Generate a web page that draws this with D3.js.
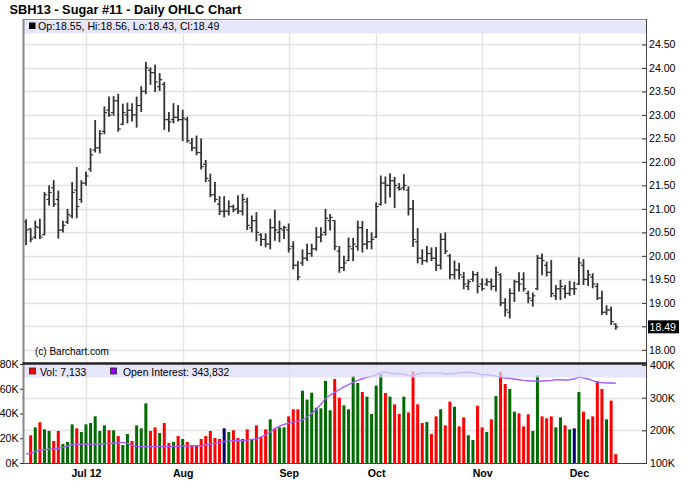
<!DOCTYPE html>
<html><head><meta charset="utf-8">
<script src="https://cdn.jsdelivr.net/npm/d3@7/dist/d3.min.js"></script>
<style>body{margin:0;background:#fff}svg{display:block}text{font-family:"Liberation Sans",Arial,sans-serif}</style>
</head><body><svg id="c" width="688" height="503"></svg>
<script>
// ---- data (index 0 = first trading day shown) ----
const open =[20.72,20.57,20.40,20.60,20.45,21.20,21.45,21.20,20.55,20.72,
20.85,21.40,21.20,21.55,21.85,22.25,22.30,22.65,23.10,23.05,
23.30,22.80,23.00,23.10,23.00,23.20,23.50,23.95,23.90,23.60,
23.65,22.90,22.90,22.95,22.90,22.90,22.40,22.30,22.20,21.95,
21.60,21.30,21.10,20.95,20.95,21.05,21.00,20.95,21.15,20.60,
20.75,20.45,20.35,20.25,20.60,20.50,20.55,20.55,20.20,19.80,
19.85,19.95,20.05,20.15,20.40,20.50,20.75,20.75,20.10,19.75,
19.90,20.15,20.20,20.60,20.25,20.30,20.40,21.10,21.55,21.50,
21.60,21.45,21.45,21.40,21.00,20.30,19.95,19.90,20.05,19.95,
19.80,20.35,20.00,19.60,19.70,19.55,19.35,19.50,19.60,19.40,
19.40,19.45,19.35,19.60,19.00,18.80,19.20,19.45,19.50,19.20,
19.05,19.30,19.95,19.80,19.65,19.15,19.30,19.30,19.20,19.30,
19.40,19.80,19.50,19.55,19.35,19.10,18.80,18.85,18.55];
const high =[20.78,20.59,20.75,20.79,21.36,21.50,21.61,21.39,20.75,21.00,
21.57,21.89,21.61,21.79,22.29,22.89,22.68,23.18,23.39,23.40,
23.45,23.24,23.26,23.25,23.39,23.61,24.13,24.01,24.07,23.89,
23.70,23.06,23.25,23.21,23.11,22.96,22.51,22.56,22.50,22.04,
21.75,21.57,21.27,21.27,21.18,21.09,21.29,21.32,21.24,20.86,
20.93,20.48,20.48,20.79,20.98,20.75,20.64,20.69,20.31,19.89,
20.14,20.26,20.26,20.61,20.61,21.00,20.89,20.76,20.21,20.00,
20.39,20.38,20.75,20.74,20.57,20.50,21.14,21.71,21.69,21.76,
21.68,21.55,21.74,21.48,21.19,20.59,20.14,20.21,20.18,20.19,
20.48,20.50,20.04,19.90,19.85,19.66,19.50,19.68,19.66,19.52,
19.52,19.52,19.77,19.63,19.10,19.31,19.49,19.65,19.65,19.26,
19.22,20.02,20.05,19.88,19.91,19.38,19.49,19.38,19.47,19.45,
19.97,19.93,19.70,19.63,19.42,19.26,18.95,18.92,18.56];
const low  =[20.23,20.29,20.36,20.36,20.44,21.07,21.04,20.37,20.50,20.68,
20.80,20.80,21.13,21.49,21.79,22.20,22.18,22.59,22.96,22.98,
22.64,22.78,22.82,22.86,22.73,23.06,23.44,23.64,23.49,23.51,
22.68,22.64,22.82,22.86,22.44,22.41,22.23,22.14,21.84,21.57,
21.25,21.14,20.87,20.82,20.86,20.93,20.89,20.86,20.55,20.50,
20.31,20.21,20.18,20.14,20.32,20.29,20.36,20.07,19.71,19.48,
19.79,19.89,19.98,20.11,20.29,20.43,20.54,20.12,19.64,19.68,
19.89,19.89,20.11,20.07,20.14,20.14,20.38,21.07,21.11,21.24,
21.02,21.39,21.39,20.86,20.19,19.84,19.81,19.86,19.89,19.68,
19.71,20.04,19.50,19.50,19.50,19.29,19.27,19.45,19.20,19.26,
19.36,19.27,19.24,18.93,18.71,18.67,19.02,19.24,19.24,18.99,
18.92,19.27,19.59,19.56,19.12,19.06,19.06,19.10,19.15,19.17,
19.38,19.38,19.36,19.31,19.06,18.74,18.74,18.53,18.43];
const close=[20.55,20.36,20.62,20.40,21.30,21.35,21.10,20.55,20.65,20.88,
21.35,21.05,21.55,21.70,22.15,22.30,22.60,23.05,23.00,23.30,
22.70,23.05,23.10,23.00,23.20,23.50,24.00,23.90,23.70,23.75,
22.90,22.85,22.95,22.90,22.93,22.45,22.30,22.20,21.90,21.65,
21.30,21.20,20.95,20.95,21.05,20.98,20.95,21.20,20.65,20.75,
20.50,20.35,20.25,20.60,20.55,20.58,20.60,20.15,19.80,19.55,
19.95,20.05,20.15,20.40,20.45,20.80,20.82,20.20,19.75,19.85,
20.20,20.25,20.60,20.25,20.30,20.35,21.05,21.55,21.50,21.60,
21.50,21.42,21.50,21.00,20.35,19.95,19.90,20.05,19.95,19.80,
20.35,20.10,19.60,19.70,19.60,19.40,19.45,19.60,19.35,19.30,
19.45,19.35,19.65,19.00,18.85,19.20,19.45,19.40,19.30,19.10,
19.15,19.95,19.90,19.65,19.20,19.30,19.35,19.20,19.30,19.30,
19.85,19.50,19.60,19.40,19.10,18.80,18.85,18.60,18.49];
// volume in thousands (first bar has no volume shown)
const volume=[null,
22.4,28.8,32.9,27.2,25.9,17.8,25.9,15.4,17.0,31.2,
28.0,25.0,31.2,32.3,37.7,25.9,30.4,26.4,26.4,21.8,
14.5,23.4,17.8,30.4,28.0,48.2,25.9,28.8,24.2,32.3,
16.2,17.0,21.8,19.4,17.0,14.5,13.7,19.4,21.8,25.9,
20.2,19.4,28.0,25.0,26.4,20.2,19.4,27.2,19.4,30.4,
21.0,27.2,35.3,28.0,28.8,28.8,37.7,43.4,43.4,58.4,
51.2,56.8,44.7,44.2,66.3,42.6,67.9,52.8,46.6,43.4,
70.3,64.7,57.4,53.6,39.6,62.5,71.9,56.6,53.6,47.4,
39.6,53.6,40.9,74.0,47.4,32.3,33.1,23.4,37.7,43.4,
30.4,49.6,45.5,29.6,36.9,22.4,18.6,46.3,28.8,25.0,
35.3,54.1,73.8,63.8,59.8,41.5,40.1,29.6,39.3,25.9,
70.8,37.7,36.1,37.7,28.8,36.9,30.4,27.2,28.0,57.4,
41.5,35.3,37.7,66.3,59.8,35.3,50.4,7.133];
// up (g) / down (r) / unchanged (n) day for each volume bar
const volDir=("-"+"rgrggrrggg"+"rggggggrgr"+"ggrgggrrgr"+"rgrgrrrrrr"+"rrngrrgrgr"+
"rrgrggrrrg"+"ggggggrrgg"+"ggrggggrgr"+"rgrrrrgrrg"+"rrgrrggrrg"+"rgrrggrrrg"+"grrrggrgng"+"rgrrrgrr").split("");
// open interest in thousands
const openInterest=[128,
130,135,140,141,142,143,145,148,152,156,
157,157,157,157,158,158,159,160,161,162,
163,160,155,151,150,150,150,150,150,150,
150,151,151,152,152,153,153,153,155,157,
160,163,166,167,168,168,168,170,172,174,
180,186,195,205,213,218,222,225,228,232,
240,252,264,280,297,308,316,325,333,340,
347,353,358,362,365,370,377,379,375,373,
373,372,368,366,373,375,375,375,376,375,
373,373,374,376,377,378,377,374,370,370,
369,366,363,360,359,357,355,353,352,351,
351,351,352,353,355,355,354,355,357,363,
360,357,352,347,346,345,345,344];
const monthTickIndex=[13,34,57,76,99,120];
const monthTickLabels=["Jul 12","Aug","Sep","Oct","Nov","Dec"];
const priceTicks=[18.0,18.5,19.0,19.5,20.0,20.5,21.0,21.5,22.0,22.5,23.0,23.5,24.0,24.5];
const volTicks=[0,20,40,60,80];
const oiTicks=[100,200,300,400];
const title="SBH13 - Sugar #11 - Daily OHLC Chart";
const lastVol="7,133", lastOI="343,832";

// ---- drawing ----
const svg=d3.select("#c");
svg.append("rect").attr("width",688).attr("height",503).attr("fill","#fff");
const L=24,R=646,PT=20,PB=363,VT=364,VB=463;
const N=open.length;
const x=d3.scaleLinear().domain([-0.45,134.35]).range([L,645]);
const y=d3.scaleLinear().domain([17.72,25.02]).range([PB,PT]);
const yv=d3.scaleLinear().domain([0,80]).range([VB,VT]);
const yo=d3.scaleLinear().domain([100,400]).range([VB,365]);
const idx=d3.range(N);
const F='"Liberation Sans",Arial,sans-serif';

svg.append("text").attr("x",9.5).attr("y",13.5).attr("font-size",12.8).attr("font-weight","bold").text(title);

// price grid
const gp=svg.append("g");
gp.selectAll("line.h").data(priceTicks).join("line").attr("x1",L).attr("x2",R).attr("y1",d=>Math.round(y(d))+0.5).attr("y2",d=>Math.round(y(d))+0.5).attr("stroke","#e2e2e2").attr("stroke-width",1.4);
gp.selectAll("line.v").data(monthTickIndex).join("line").attr("x1",d=>Math.round(x(d))+0.5).attr("x2",d=>Math.round(x(d))+0.5).attr("y1",PT).attr("y2",PB).attr("stroke","#e2e2e2").attr("stroke-width",1.4);
// volume grid
const gv=svg.append("g");
gv.selectAll("line.h").data([200,300]).join("line").attr("x1",L).attr("x2",R).attr("y1",d=>Math.round(yo(d))+0.5).attr("y2",d=>Math.round(yo(d))+0.5).attr("stroke","#e2e2e2").attr("stroke-width",1.4);
gv.selectAll("line.v").data(monthTickIndex).join("line").attr("x1",d=>Math.round(x(d))+0.5).attr("x2",d=>Math.round(x(d))+0.5).attr("y1",VT).attr("y2",VB).attr("stroke","#e2e2e2").attr("stroke-width",1.4);

// OHLC bars
const ob=svg.append("g").attr("stroke","#333");
idx.forEach(i=>{
  const cx=x(i);
  ob.append("line").attr("x1",cx).attr("x2",cx).attr("y1",y(high[i])).attr("y2",y(low[i])).attr("stroke-width",1.8);
  ob.append("line").attr("x1",cx-2.6).attr("x2",cx).attr("y1",y(open[i])).attr("y2",y(open[i])).attr("stroke-width",1.2);
  ob.append("line").attr("x1",cx).attr("x2",cx+2.6).attr("y1",y(close[i])).attr("y2",y(close[i])).attr("stroke-width",1.2);
});

// volume bars
const col={r:"#ff0000",g:"#006b00",n:"#000070"};
svg.append("g").selectAll("rect").data(idx.filter(i=>volume[i]!=null)).join("rect")
  .attr("x",i=>x(i)-1.5).attr("width",3).attr("y",i=>yv(volume[i])).attr("height",i=>VB-yv(volume[i]))
  .attr("fill",i=>col[volDir[i]]);
// open interest line
svg.append("path").datum(idx).attr("fill","none").attr("stroke","#a45cff").attr("stroke-width",1.4)
  .attr("d",d3.line().x(i=>x(i)).y(i=>yo(openInterest[i])));

// legend bands
svg.append("rect").attr("x",L).attr("y",PT+0.5).attr("width",R-L).attr("height",13).attr("fill","#e6e6fa");
svg.append("rect").attr("x",29).attr("y",22.5).attr("width",6.5).attr("height",6.5).attr("fill","#000");
svg.append("text").attr("x",38).attr("y",30.3).attr("font-size",10.6)
  .text(`Op:${open[N-1].toFixed(2)}, Hi:${high[N-1].toFixed(2)}, Lo:${low[N-1].toFixed(2)}, Cl:${close[N-1].toFixed(2)}`);
svg.append("rect").attr("x",L).attr("y",365).attr("width",R-L).attr("height",12.5).attr("fill","#dcdcf8").attr("opacity",0.72);
svg.append("rect").attr("x",29.5).attr("y",368).attr("width",6).attr("height",6).attr("fill","#ff0000").attr("stroke","#222").attr("stroke-width",0.8);
svg.append("text").attr("x",40).attr("y",375.5).attr("font-size",10.4).text("Vol: "+lastVol);
svg.append("rect").attr("x",110.5).attr("y",368).attr("width",6).attr("height",6).attr("fill","#9900ff").attr("stroke","#222").attr("stroke-width",0.8);
svg.append("text").attr("x",123).attr("y",375.5).attr("font-size",10.4).text("Open Interest: "+lastOI);

// frames
svg.append("line").attr("x1",L-0.5).attr("x2",R).attr("y1",PT-0.5).attr("y2",PT-0.5).attr("stroke","#888");
svg.append("line").attr("x1",L-0.5).attr("x2",L-0.5).attr("y1",PT-1).attr("y2",VB).attr("stroke","#888").attr("stroke-width",2);
svg.append("line").attr("x1",R+0.5).attr("x2",R+0.5).attr("y1",PT-1).attr("y2",VB+0.5).attr("stroke","#444");
svg.append("line").attr("x1",L-1.5).attr("x2",R+1).attr("y1",363.5).attr("y2",363.5).attr("stroke","#222").attr("stroke-width",2.5);
svg.append("line").attr("x1",L-1.5).attr("x2",R+1).attr("y1",VB+0.5).attr("y2",VB+0.5).attr("stroke","#444").attr("stroke-width",1.2);

svg.append("text").attr("x",35).attr("y",355).attr("font-size",10).text("(c) Barchart.com");

// price axis (right)
const lastY=y(close[N-1]);
const pa=svg.append("g").attr("transform",`translate(${R},0)`)
  .call(d3.axisRight(y).tickValues(priceTicks).tickFormat(d3.format(".2f")).tickSize(-4).tickPadding(3));
pa.select(".domain").remove();
pa.selectAll(".tick line").attr("stroke","#333");
pa.selectAll(".tick text").attr("font-size",10.6).attr("font-family",F).attr("fill","#000")
  .attr("display",d=>Math.abs(y(d)-lastY)<11?"none":null);
// last price marker
svg.append("rect").attr("x",648).attr("y",lastY-6.5).attr("width",31).attr("height",13).attr("fill","#000");
svg.append("text").attr("x",649.5).attr("y",lastY).attr("dy","0.35em").attr("font-size",10.6).attr("fill","#fff").text(close[N-1].toFixed(2));

// volume axis (left)
const va=svg.append("g").attr("transform",`translate(${L-1},0)`)
  .call(d3.axisLeft(yv).tickValues(volTicks).tickFormat(d=>d+"K").tickSize(3).tickPadding(1.5));
va.select(".domain").remove();
va.selectAll(".tick line").attr("stroke","#333");
va.selectAll(".tick text").attr("font-size",10.6).attr("font-family",F).attr("fill","#000");
// open interest axis (right)
const oa=svg.append("g").attr("transform",`translate(${R},0)`)
  .call(d3.axisRight(yo).tickValues(oiTicks).tickFormat(d=>d+"K").tickSize(-4).tickPadding(4));
oa.select(".domain").remove();
oa.selectAll(".tick line").attr("stroke","#333");
oa.selectAll(".tick text").attr("font-size",10.6).attr("font-family",F).attr("fill","#000");
// month axis
const xa=svg.append("g").attr("transform",`translate(0,${VB})`)
  .call(d3.axisBottom(x).tickValues(monthTickIndex).tickFormat((d,i)=>monthTickLabels[i]).tickSize(0).tickPadding(6));
xa.select(".domain").remove();
xa.selectAll(".tick text").attr("font-size",10.6).attr("font-weight","bold").attr("font-family",F).attr("fill","#000");
</script></body></html>
